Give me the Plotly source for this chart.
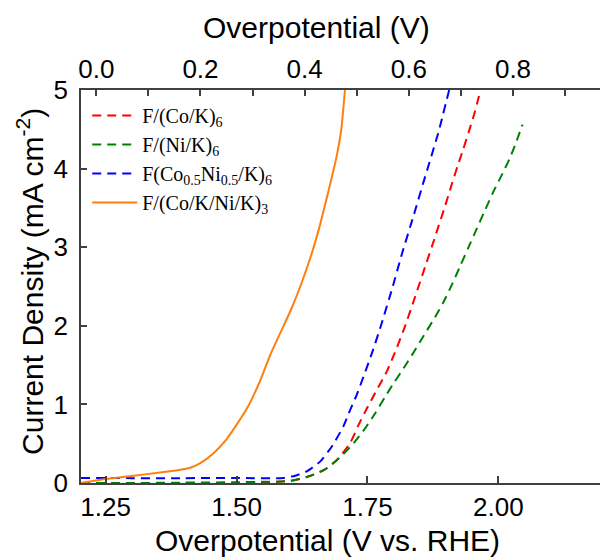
import plotly.graph_objects as go

# ---- data ----
co_x = [1.203, 1.30, 1.40, 1.50, 1.55, 1.58, 1.61, 1.634, 1.666, 1.692, 1.717, 1.733, 1.749, 1.765, 1.787,
        1.806, 1.822, 1.841, 1.860, 1.879, 1.898, 1.911, 1.922, 1.933, 1.944, 1.955, 1.966]
co_y = [0.0, 0.0, 0.0, 0.0, 0.005, 0.015, 0.035, 0.076, 0.16, 0.296, 0.51, 0.74, 0.95, 1.15, 1.42,
        1.72, 2.0, 2.37, 2.75, 3.13, 3.52, 3.80, 4.03, 4.25, 4.48, 4.72, 5.0]

ni_x = [1.203, 1.30, 1.40, 1.50, 1.55, 1.60, 1.641, 1.673, 1.698, 1.724, 1.746, 1.765, 1.784, 1.800, 1.819,
        1.838, 1.857, 1.879, 1.895, 1.911, 1.927, 1.943, 1.959, 1.975, 1.990, 2.008, 2.021, 2.033, 2.046]
ni_y = [0.0, 0.0, 0.005, 0.01, 0.015, 0.025, 0.09, 0.19, 0.33, 0.51, 0.70, 0.89, 1.10, 1.27, 1.46,
        1.66, 1.87, 2.11, 2.30, 2.52, 2.76, 3.00, 3.24, 3.48, 3.70, 3.94, 4.12, 4.32, 4.56]

coni_x = [1.203, 1.30, 1.40, 1.50, 1.589, 1.612, 1.634, 1.660, 1.682, 1.704, 1.717, 1.730, 1.745, 1.761,
          1.777, 1.797, 1.816, 1.838, 1.858, 1.885, 1.906]
coni_y = [0.064, 0.062, 0.062, 0.063, 0.064, 0.093, 0.148, 0.275, 0.465, 0.72, 0.93, 1.13, 1.40, 1.70,
          2.03, 2.47, 2.92, 3.40, 3.85, 4.45, 5.0]

layer_x = [1.203, 1.25, 1.30, 1.35, 1.39, 1.41, 1.43, 1.456, 1.48, 1.50, 1.52, 1.545, 1.565, 1.585,
           1.605, 1.625, 1.645, 1.66, 1.675, 1.69, 1.70, 1.707]
layer_y = [0.0, 0.05, 0.09, 0.13, 0.165, 0.19, 0.25, 0.38, 0.55, 0.74, 0.95, 1.30, 1.64, 1.93,
           2.22, 2.56, 2.95, 3.30, 3.70, 4.12, 4.50, 5.0]

names = ["F/(Co/K)<sub>6</sub>", "F/(Ni/K)<sub>6</sub>",
         "F(Co<sub>0.5</sub>Ni<sub>0.5</sub>/K)<sub>6</sub>", "F/(Co/K/Ni/K)<sub>3</sub>"]
colors = ["#ff0000", "#008000", "#0000ff", "#ff7f0e"]

bottom_range = [1.203, 2.194]
top_range = [-0.0294, 0.967]
y_range = [0, 5]

fig = go.Figure()
dash = "9px,6px"
for xs, ys, nm, c, d in [(co_x, co_y, names[0], colors[0], dash),
                         (ni_x, ni_y, names[1], colors[1], dash),
                         (coni_x, coni_y, names[2], colors[2], dash),
                         (layer_x, layer_y, names[3], colors[3], "solid")]:
    fig.add_trace(go.Scatter(x=xs, y=ys, mode="lines", name=nm,
                             line=dict(color=c, width=2, dash=d, shape="spline", smoothing=0.5),
                             cliponaxis=True))

# dummy trace for top axis
fig.add_trace(go.Scatter(x=[None], y=[None], xaxis="x2", showlegend=False, hoverinfo="skip"))

axcol = "#404040"
tickfont = dict(family="Liberation Sans, Arial", size=26, color="black")
titlefont = dict(family="Liberation Sans, Arial", size=30, color="black")

fig.update_layout(
    width=600, height=559,
    margin=dict(l=81, r=0, t=90, b=76, autoexpand=False),
    paper_bgcolor="white", plot_bgcolor="white",
    showlegend=True,
    legend=dict(x=0.012, y=0.985, xanchor="left", yanchor="top",
                font=dict(family="Liberation Serif, Times New Roman", size=20, color="black"),
                bgcolor="rgba(0,0,0,0)", tracegroupgap=0, itemwidth=45),
    xaxis=dict(range=bottom_range, tickvals=[1.25, 1.50, 1.75, 2.00],
               ticktext=["1.25", "1.50", "1.75", "2.00"],
               ticks="inside", ticklen=7, tickwidth=1.5, tickcolor=axcol,
               showline=True, linecolor=axcol, linewidth=1.5, mirror=False,
               showgrid=False, zeroline=False, tickfont=tickfont),
    xaxis2=dict(range=top_range, overlaying="x", side="top", anchor="y",
                tickvals=[0.0, 0.2, 0.4, 0.6, 0.8], ticktext=["0.0", "0.2", "0.4", "0.6", "0.8"],
                ticks="inside", ticklen=6, tickwidth=1.5, tickcolor=axcol,
                minor=dict(dtick=0.1, tick0=0, ticks="inside", ticklen=6, tickwidth=1.5, tickcolor=axcol),
                showline=True, linecolor=axcol, linewidth=1.5,
                showgrid=False, zeroline=False, tickfont=tickfont),
    yaxis=dict(range=y_range, tickvals=[0, 1, 2, 3, 4, 5],
               ticks="inside", ticklen=6, tickwidth=1.5, tickcolor=axcol,
               showline=True, linecolor=axcol, linewidth=1.5,
               showgrid=False, zeroline=False, tickfont=tickfont, ticklabelstandoff=6),
    annotations=[
        dict(text="Overpotential (V vs. RHE)", xref="paper", yref="paper", x=0.474, y=-0.147,
             xanchor="center", yanchor="middle", showarrow=False, font=titlefont),
        dict(text="Overpotential (V)", xref="paper", yref="paper", x=0.453, y=1.16,
             xanchor="center", yanchor="middle", showarrow=False, font=titlefont),
        dict(text="Current Density (mA cm<sup>-2</sup>)", xref="paper", yref="paper",
             x=-0.098, y=0.512, xanchor="center", yanchor="middle", textangle=-90, showarrow=False,
             font=titlefont),
    ],
)

fig.write_html("out.html", config={"displayModeBar": False},
               post_script="document.body.style.margin='0';document.body.style.overflow='hidden';")
